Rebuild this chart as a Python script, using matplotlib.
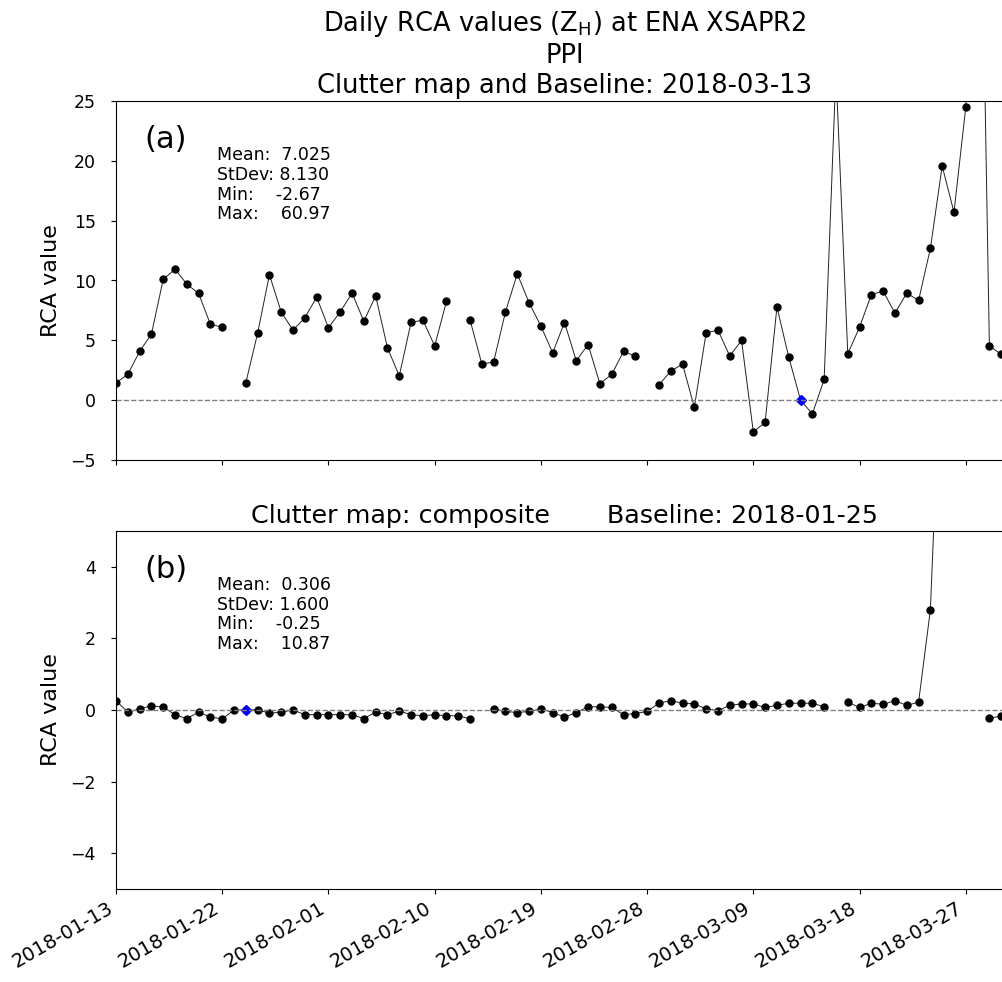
import matplotlib
matplotlib.use("Agg")
import matplotlib.pyplot as plt
import numpy as np
import pandas as pd

nan = np.nan

# daily dates (one day, 2018-01-24, absent from the record)
dates = pd.date_range("2018-01-13", "2018-03-30").drop(pd.Timestamp("2018-01-24"))
tick_step = 9

# (a) clutter map and baseline 2018-03-13
rca_a = [1.45, 2.15, 4.07, 5.52, 10.09, 10.95, 9.70, 8.92, 6.33, 6.10,
         nan, 1.45, 5.60, 10.48, 7.36, 5.85, 6.88, 8.61, 6.05, 7.38,
         8.95, 6.60, 8.72, 4.37, 2.03, 6.50, 6.69, 4.54, 8.25, nan,
         6.69, 3.01, 3.20, 7.38, 10.56, 8.14, 6.19, 3.96, 6.49, 3.29,
         4.65, 1.37, 2.15, 4.07, 3.68, nan, 1.28, 2.42, 3.01, -0.59,
         5.63, 5.85, 3.70, 4.99, -2.67, -1.84, 7.78, 3.60, 0.00, -1.14,
         1.73, 27.5, 3.88, 6.10, 8.83, 9.11, 7.27, 8.95, 8.33, 12.68,
         19.57, 15.70, 24.50, 60.97, 4.54, 3.82]
base_a = 58

# (b) composite clutter map, baseline 2018-01-25
rca_b = [0.26, -0.06, 0.03, 0.12, 0.08, -0.13, -0.24, -0.06, -0.20, -0.25,
         0.00, 0.00, 0.01, -0.09, -0.06, 0.00, -0.13, -0.13, -0.13, -0.13,
         -0.13, -0.24, -0.06, -0.13, -0.03, -0.13, -0.16, -0.13, -0.16, -0.16,
         -0.25, nan, 0.03, -0.04, -0.07, -0.04, 0.03, -0.07, -0.20, -0.07,
         0.09, 0.09, 0.07, -0.13, -0.10, -0.04, 0.19, 0.26, 0.19, 0.17,
         0.03, -0.02, 0.13, 0.17, 0.17, 0.07, 0.13, 0.19, 0.19, 0.19,
         0.09, nan, 0.22, 0.07, 0.19, 0.16, 0.26, 0.13, 0.22, 2.80,
         10.87, nan, nan, nan, -0.23, -0.17]
base_b = 11

stats_a = "Mean:  7.025\nStDev: 8.130\nMin:    -2.67\nMax:    60.97"
stats_b = "Mean:  0.306\nStDev: 1.600\nMin:    -0.25\nMax:    10.87"

W, H = 1003, 982
fig = plt.figure(figsize=(W / 100, H / 100), dpi=100)


def px_axes(left, top, right, bottom):
    return fig.add_axes([left / W, 1 - bottom / H, (right - left) / W, (bottom - top) / H])


def panel(ax, vals, base, ylim, yticks, letter, stats):
    x = np.arange(len(vals))
    ax.plot(x, vals, color="#222222", lw=0.7, marker="o", ms=5, mfc="k", mec="k")
    ax.plot(x[base], vals[base], ls="none", marker="D", ms=5, color="b")
    ax.axhline(0.0, color="grey", lw=1, ls="--")
    ax.set_xlim(0, 76)
    ax.set_ylim(*ylim)
    ax.set_yticks(yticks)
    ax.set_ylabel("RCA value", fontsize=16, labelpad=7)
    ax.tick_params(labelsize=12.5)
    ax.tick_params(axis="y", pad=11)
    ax.text(0.032, 0.87, letter, transform=ax.transAxes, fontsize=22)
    ax.text(0.113, 0.874, stats, transform=ax.transAxes, fontsize=12.5, va="top",
            linespacing=1.12)
    ax.set_xticks(x[::tick_step])


ax1 = px_axes(116, 101, 1013, 460)
panel(ax1, rca_a, base_a, (-5, 25), [-5, 0, 5, 10, 15, 20, 25], "(a)", stats_a)
ax1.set_xticklabels([])
ax1.set_title("Daily RCA values (Z$_\\mathregular{H}$) at ENA XSAPR2\nPPI\n"
              "Clutter map and Baseline: 2018-03-13", fontsize=18.5, linespacing=1.2)

ax2 = px_axes(116, 531, 1013, 889)
panel(ax2, rca_b, base_b, (-5, 5), [-4, -2, 0, 2, 4], "(b)", stats_b)
ax2.set_xticklabels([d.strftime("%Y-%m-%d") for d in dates[::tick_step]],
                    rotation=30, ha="right", fontsize=14)
ax2.set_title("Clutter map: composite       Baseline: 2018-01-25", fontsize=18.3)

fig.savefig("out.png", dpi=100)
